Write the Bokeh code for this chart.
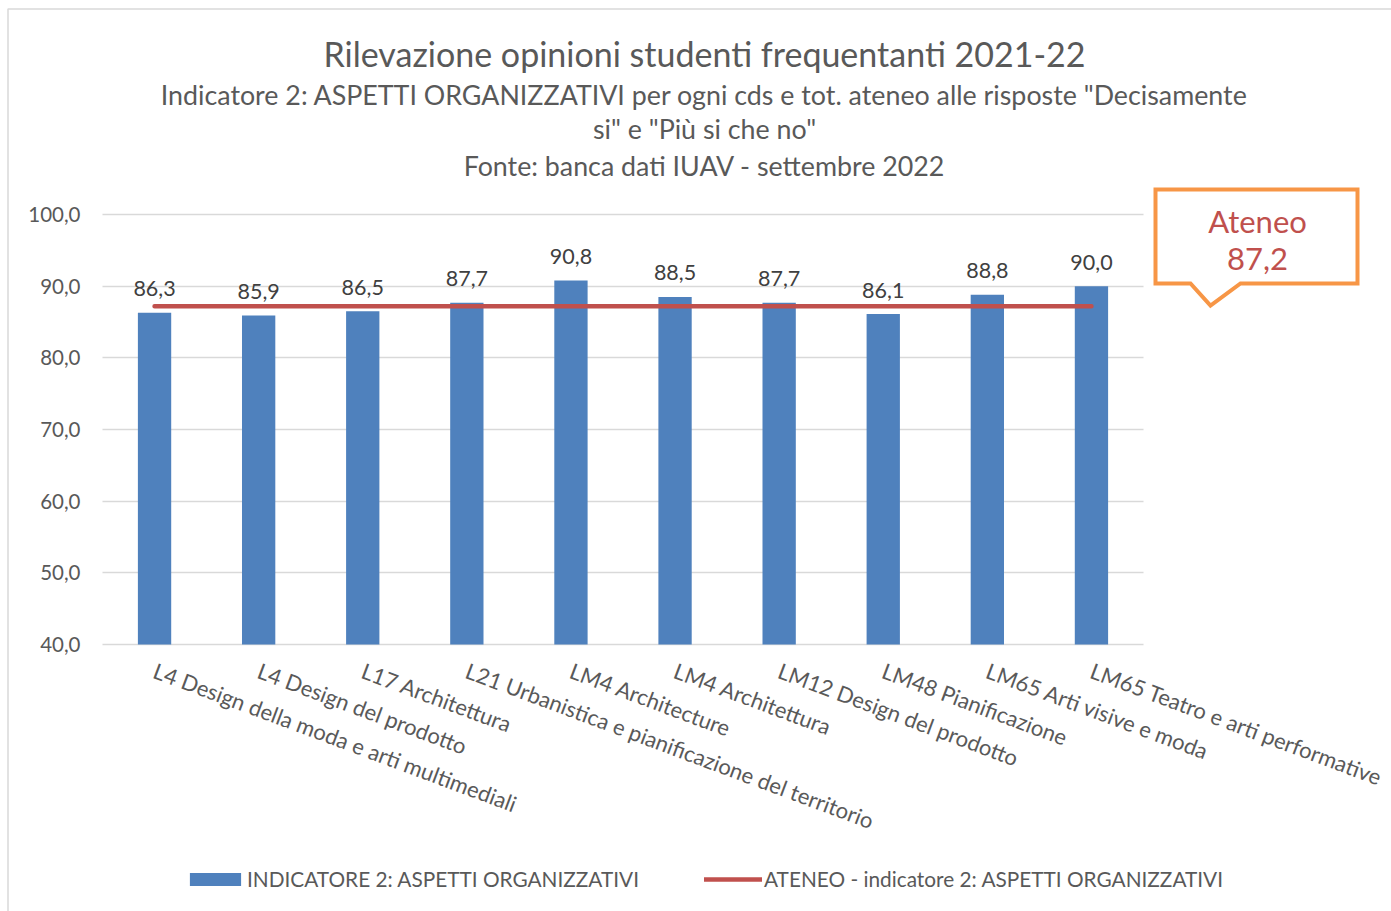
import math
from bokeh.plotting import figure
from bokeh.models import (Range1d, FixedTicker, Label, Legend, LegendItem,
                          PolyAnnotation, ColumnDataSource, LinearAxis, Grid)
from bokeh.core.properties import value
from bokeh.embed import file_html
from bokeh.resources import INLINE

# ---------------- data ----------------
categories = [
    "L4 Design della moda e arti multimediali",
    "L4 Design del prodotto",
    "L17 Architettura",
    "L21 Urbanistica e pianificazione del territorio",
    "LM4 Architecture",
    "LM4 Architettura",
    "LM12 Design del prodotto",
    "LM48 Pianificazione",
    "LM65 Arti visive e moda",
    "LM65 Teatro e arti performative",
]
indicatore = [86.3, 85.9, 86.5, 87.7, 90.8, 88.5, 87.7, 86.1, 88.8, 90.0]
ateneo = [87.2, 87.2, 87.2, 87.2, 87.2, 87.2, 87.2, 87.2, 87.2, 87.2]
yticks = [40, 50, 60, 70, 80, 90, 100]
ytick_labels = ["40,0", "50,0", "60,0", "70,0", "80,0", "90,0", "100,0"]
series_names = ["INDICATORE 2: ASPETTI ORGANIZZATIVI",
                "ATENEO - indicatore 2: ASPETTI ORGANIZZATIVI"]
title_text = "Rilevazione opinioni studenti frequentanti 2021-22"
subtitle_lines = [
    "Indicatore 2: ASPETTI ORGANIZZATIVI per ogni cds e tot. ateneo alle risposte \"Decisamente",
    "si\" e \"Più si che no\"",
    "Fonte: banca dati IUAV - settembre 2022",
]
callout_title = "Ateneo"


def fmt(v):
    return f"{v:.1f}".replace(".", ",")


# ---------------- layout (canvas pixels) ----------------
W, H = 1391, 911
FL, FR, FT, FB = 102, 1143, 214, 644      # plot area
Y0, Y1 = yticks[0], yticks[-1]
FONT = "Lato"
GREY = "#595959"
band = (FR - FL) / len(categories)
xpos = list(range(len(categories)))


def dx(X):
    return (X - FL) / band - 0.5


def dy(Y):
    return Y1 - (Y - FT) * (Y1 - Y0) / (FB - FT)


p = figure(x_range=Range1d(dx(0), dx(W)), y_range=Range1d(dy(H), dy(0)),
           width=W, height=H, output_backend="svg", toolbar_location=None,
           x_axis_type=None, y_axis_type=None,
           min_border_left=0, min_border_right=0,
           min_border_top=0, min_border_bottom=0)
p.outline_line_color = None
p.background_fill_color = "white"
p.border_fill_color = "white"
p.grid.visible = False

# y axis (fixed at the plot-area left edge)
yaxis = LinearAxis(ticker=FixedTicker(ticks=yticks),
                   major_label_overrides=dict(zip(yticks, ytick_labels)),
                   fixed_location=dx(FL), bounds=(Y0, Y1),
                   axis_line_color=None, major_tick_line_color=None,
                   minor_tick_line_color=None, major_tick_out=0,
                   major_tick_in=0, minor_tick_out=0, minor_tick_in=0,
                   major_label_standoff=22, major_label_text_font=FONT,
                   major_label_text_font_size="20.5px",
                   major_label_text_color=GREY)
p.add_layout(yaxis, "left")

# x axis (fixed at y = 40)
xaxis = LinearAxis(ticker=FixedTicker(ticks=xpos),
                   major_label_overrides=dict(zip(xpos, categories)),
                   fixed_location=Y0,
                   axis_line_color=None, major_tick_line_color=None,
                   minor_tick_line_color=None, major_tick_out=0,
                   major_tick_in=0, minor_tick_out=0, minor_tick_in=0,
                   major_label_orientation=-math.radians(20.5),
                   major_label_standoff=25, major_label_text_font=FONT,
                   major_label_text_font_size="22px",
                   major_label_text_color=GREY)
p.add_layout(xaxis, "below")

# horizontal grid lines limited to the plot area
if "cross_bounds" in Grid.properties():
    grid = Grid(dimension=1, ticker=yaxis.ticker, bounds=(Y0, Y1),
                cross_bounds=(dx(FL), dx(FR)), grid_line_color="#D9D9D9",
                grid_line_width=1.5)
    p.add_layout(grid)
else:
    p.segment(x0=[dx(FL)] * len(yticks), x1=[dx(FR)] * len(yticks),
              y0=yticks, y1=yticks, line_color="#D9D9D9", line_width=1.5)

# bars, line, value labels
src = ColumnDataSource(dict(x=xpos, val=indicatore,
                            lab=[fmt(v) for v in indicatore], ate=ateneo))
r_bar = p.vbar(x="x", top="val", bottom=Y0, width=0.32, source=src,
               fill_color="#4F81BD", line_color=None)
r_line = p.line(x="x", y="ate", source=src, line_color="#C0504D",
                line_width=4.5, line_cap="round")
p.text(x="x", y="val", text="lab", source=src, text_align="center",
       text_baseline="middle", y_offset=-24, text_font=value(FONT),
       text_font_size="21.5px", text_color="#404040")

# titles
p.add_layout(Label(x=dx(704), y=dy(53), text=title_text, text_align="center",
                   text_baseline="middle", text_font=FONT,
                   text_font_size="34px", text_color=GREY))
for yy, line in zip([94, 128, 165], subtitle_lines):
    p.add_layout(Label(x=dx(704), y=dy(yy), text=line, text_align="center",
                       text_baseline="middle", text_font=FONT,
                       text_font_size="26.8px", text_color=GREY))

# outer chart border (top / left visible)
p.add_layout(PolyAnnotation(xs=[dx(7.5), dx(7.5), dx(1420), dx(1420)],
                            ys=[dy(1000), dy(8.5), dy(8.5), dy(1000)],
                            fill_alpha=0, line_color="#D9D9D9",
                            line_alpha=1, line_width=1.5))

# callout
cx = [1155, 1357, 1357, 1240, 1210, 1190, 1155]
cy = [189, 189, 283, 283, 305, 283, 283]
p.add_layout(PolyAnnotation(xs=[dx(v) for v in cx], ys=[dy(v) for v in cy],
                            fill_color="white", fill_alpha=1,
                            line_color="#F79646", line_alpha=1, line_width=4,
                            line_join="miter"))
p.add_layout(Label(x=dx(1257), y=dy(220), text=callout_title,
                   text_align="center", text_baseline="middle",
                   text_font=FONT, text_font_size="31px",
                   text_color="#C0504D"))
p.add_layout(Label(x=dx(1257), y=dy(258), text=fmt(ateneo[0]),
                   text_align="center", text_baseline="middle",
                   text_font=FONT, text_font_size="31px",
                   text_color="#C0504D"))

# legends
common = dict(orientation="horizontal", padding=0, margin=0,
              border_line_color=None, background_fill_alpha=0,
              label_text_font=FONT, label_text_font_size="20.8px",
              label_text_color=GREY, glyph_height=16)
leg1 = Legend(items=[LegendItem(label=series_names[0], renderers=[r_bar])],
              location=(183, H - 891), glyph_width=64,
              label_standoff=0, **common)
leg2 = Legend(items=[LegendItem(label=series_names[1], renderers=[r_line])],
              location=(704, H - 891), glyph_width=58,
              label_standoff=2, **common)
p.add_layout(leg1)
p.add_layout(leg2)

open("out.html", "w").write(file_html(p, INLINE))
